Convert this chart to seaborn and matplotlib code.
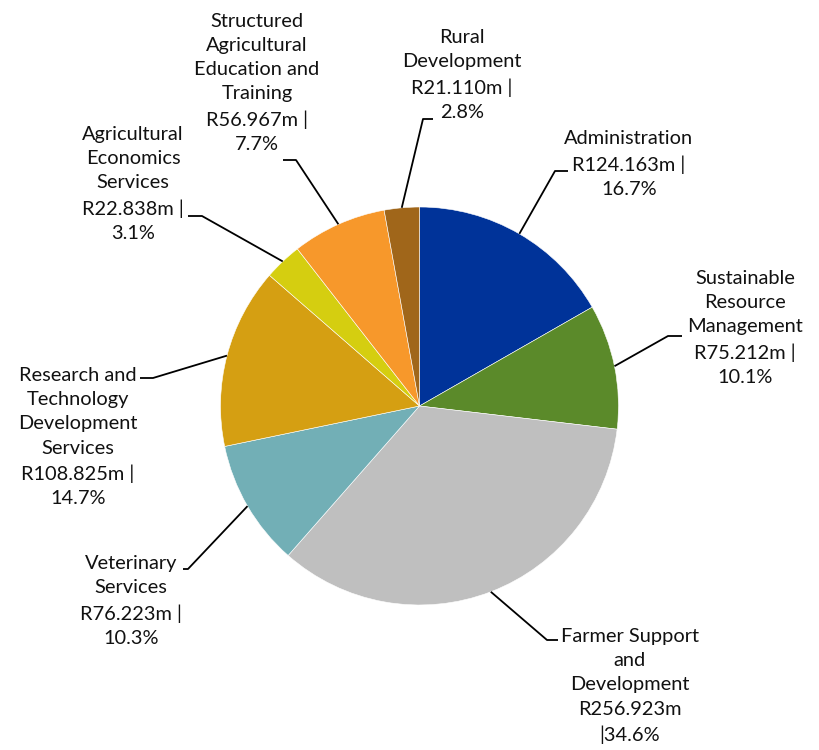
import numpy as np
import matplotlib
matplotlib.use("Agg")
import matplotlib.pyplot as plt
import seaborn as sns

# programme budgets (R million)
programmes = [
    "Administration",
    "Sustainable\nResource\nManagement",
    "Farmer Support\nand\nDevelopment",
    "Veterinary\nServices",
    "Research and\nTechnology\nDevelopment\nServices",
    "Agricultural\nEconomics\nServices",
    "Structured\nAgricultural\nEducation and\nTraining",
    "Rural\nDevelopment",
]
budget = [124.163, 75.212, 256.923, 76.223, 108.825, 22.838, 56.967, 21.110]
colours = ["#003399", "#5B8A2A", "#BFBFBF", "#72AFB6",
           "#D59F12", "#D5CE10", "#F7982B", "#A0661A"]

W, H = 819, 750
CX, CY, R = 419.5, 406, 199

# label centre (x, y from top) and elbow of the leader line (elbow x, end x, y)
label_pos = [(629, 164), (745, 328), (630, 686), (131, 601),
             (78, 437), (133, 184), (257, 83), (462, 75)]
elbows = [(555, 568, 171), (668, 682, 336), (547, 558, 640), (188, 183, 569),
          (153, 140, 378), (202, 188, 216), (296, 283, 160), (423, 433, 119)]

sns.set_theme(style="white")
plt.rcParams['font.family'] = ['Lato', 'DejaVu Sans']

fig = plt.figure(figsize=(W / 100, H / 100), dpi=100)
ax = fig.add_axes([0, 0, 1, 1])

wedges, _ = ax.pie(budget, colors=colours, startangle=90, counterclock=False,
                   center=(CX, H - CY), radius=R,
                   wedgeprops=dict(edgecolor="white", linewidth=0.4))
ax.set_xlim(0, W)
ax.set_ylim(0, H)
ax.set_aspect("equal")
ax.axis("off")

total = sum(budget)
for i, (name, val) in enumerate(zip(programmes, budget)):
    pct = val / total * 100
    if name.startswith("Farmer"):
        txt = f"{name}\nR{val:.3f}m\n|{pct:.1f}%"
    else:
        txt = f"{name}\nR{val:.3f}m |\n{pct:.1f}%"
    lx, ly = label_pos[i]
    ax.text(lx, H - ly, txt, ha="center", va="center", fontsize=14.4,
            linespacing=1.52, color="#111111")

    w = wedges[i]
    mid = np.deg2rad((w.theta1 + w.theta2) / 2)
    sx = CX + R * np.cos(mid)
    sy = (H - CY) + R * np.sin(mid)
    ex, tx, ey = elbows[i]
    ax.plot([sx, ex, tx], [sy, H - ey, H - ey], color="black", linewidth=1.3,
            solid_capstyle="butt")

fig.savefig("out.png", dpi=100)
